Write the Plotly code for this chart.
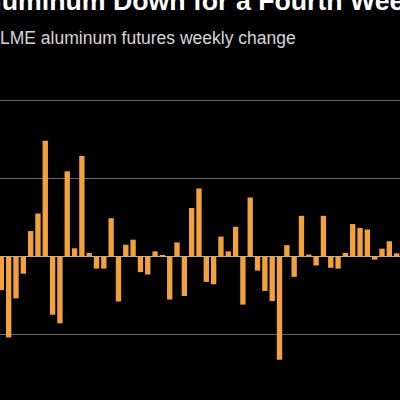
import plotly.graph_objects as go

weeks = list(range(1, 56))
weekly_change_pct = [
    -0.86, -2.07, -1.07, -0.44, 0.65, 1.10, 2.96, -1.49, -1.71, 2.18,
    0.21, 2.57, 0.09, -0.31, -0.31, 0.98, -1.15, 0.30, 0.43, -0.40,
    -0.46, 0.13, 0.02, -1.10, 0.36, -1.01, 1.24, 1.74, -0.65, -0.71,
    0.51, 0.13, 0.76, -1.23, 1.51, -0.36, -0.88, -1.14, -2.64, 0.29,
    -0.52, 1.04, 0.05, -0.23, 1.04, -0.29, -0.31, 0.09, 0.83, 0.73,
    0.69, -0.08, 0.20, 0.39, 0.08,
]
grid_values = [-2, 0, 2, 4]
title_text = "Aluminum Down for a Fourth Week"
subtitle_text = "LME aluminum futures weekly change"

fig = go.Figure(
    go.Bar(x=weeks, y=weekly_change_pct, marker_color="#f1a23c",
           marker_line_width=0)
)

fig.update_layout(
    width=400, height=400,
    margin=dict(l=0, r=0, t=0, b=0, pad=0),
    paper_bgcolor="#000000", plot_bgcolor="#000000",
    bargap=0.27, showlegend=False,
    xaxis=dict(range=[0.816, 55.46], showgrid=False, zeroline=False,
               showticklabels=False, ticks="", showline=False),
    yaxis=dict(range=[-3.67, 6.56], tickvals=grid_values, showticklabels=False,
               showgrid=True, gridcolor="#666666", gridwidth=1,
               zeroline=True, zerolinecolor="#b5b5b5", zerolinewidth=1,
               ticks="", showline=False),
    annotations=[
        dict(text="<b>" + title_text + "</b>", xref="paper", yref="paper",
             x=-26.7 / 400, y=1 - 1 / 400, xanchor="left", yanchor="middle",
             showarrow=False,
             font=dict(family="Liberation Sans", size=26.7, color="#ffffff")),
        dict(text=subtitle_text, xref="paper", yref="paper",
             x=-2 / 400, y=1 - 38.5 / 400, xanchor="left", yanchor="middle",
             showarrow=False,
             font=dict(family="Liberation Sans", size=17.5, color="#d6d6d6")),
    ],
)

fig.write_html("out.html")
